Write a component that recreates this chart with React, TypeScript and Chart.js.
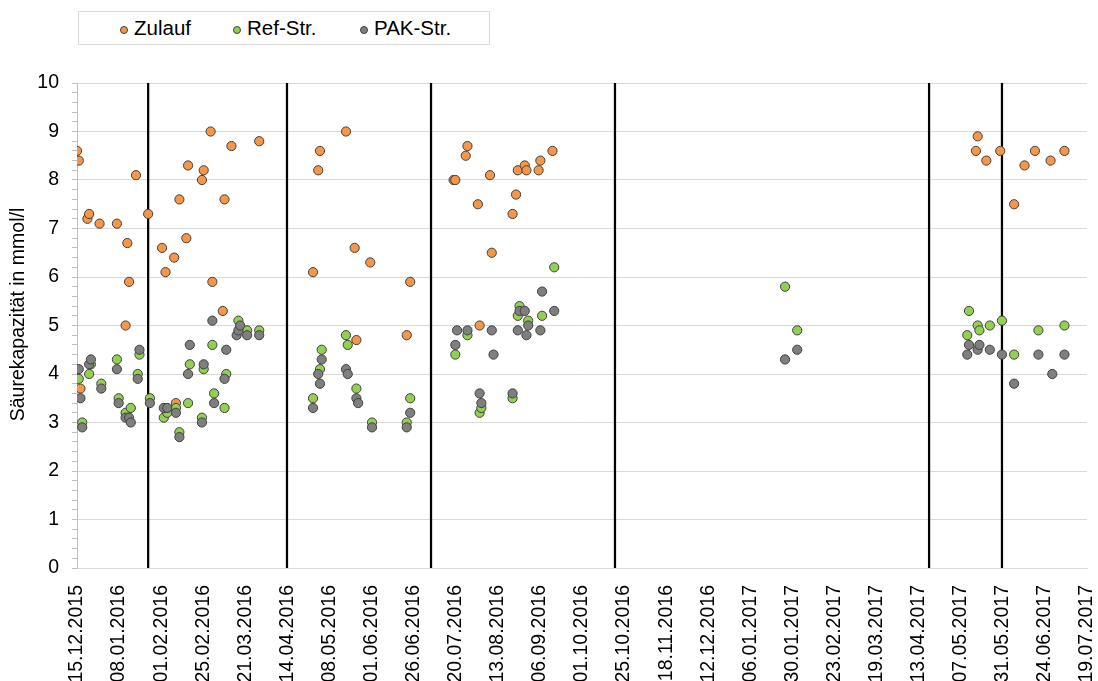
import React, { useEffect, useRef } from "react";
import { Chart, registerables } from "chart.js";

Chart.register(...registerables);

// ---- axis definition ----
const AXIS_START = "15.12.2015";
const AXIS_END = "19.07.2017";
const X_TICK_STEP_DAYS = 24.25;
const Y_MIN = 0;
const Y_MAX = 10;
const Y_MINOR_STEP = 0.2;
const Y_TITLE = "Säurekapazität in mmol/l";

// ---- series ----
const seriesLabels = ["Zulauf", "Ref-Str.", "PAK-Str."];
const seriesColors = ["#F79646", "#92D050", "#7F7F7F"];

const zulaufDates = [
  "15.12.2015", "16.12.2015", "17.12.2015", "21.12.2015", "22.12.2015", "28.12.2015",
  "07.01.2016", "12.01.2016", "13.01.2016", "14.01.2016", "18.01.2016", "25.01.2016",
  "02.02.2016", "04.02.2016", "09.02.2016", "10.02.2016", "12.02.2016", "16.02.2016",
  "17.02.2016", "25.02.2016", "26.02.2016", "01.03.2016", "02.03.2016", "08.03.2016",
  "09.03.2016", "13.03.2016", "29.03.2016",
  "29.04.2016", "02.05.2016", "03.05.2016", "18.05.2016", "23.05.2016", "24.05.2016",
  "01.06.2016", "22.06.2016", "24.06.2016",
  "19.07.2016", "20.07.2016", "26.07.2016", "27.07.2016", "02.08.2016", "03.08.2016",
  "09.08.2016", "10.08.2016", "22.08.2016", "24.08.2016", "25.08.2016", "29.08.2016",
  "30.08.2016", "06.09.2016", "07.09.2016", "14.09.2016",
  "16.05.2017", "17.05.2017", "22.05.2017", "30.05.2017", "07.06.2017", "13.06.2017",
  "19.06.2017", "28.06.2017", "06.07.2017",
];
const zulaufValues = [
  8.6, 8.4, 3.7, 7.2, 7.3, 7.1,
  7.1, 5.0, 6.7, 5.9, 8.1, 7.3,
  6.6, 6.1, 6.4, 3.4, 7.6, 6.8,
  8.3, 8.0, 8.2, 9.0, 5.9, 5.3,
  7.6, 8.7, 8.8,
  6.1, 8.2, 8.6, 9.0, 6.6, 4.7,
  6.3, 4.8, 5.9,
  8.0, 8.0, 8.5, 8.7, 7.5, 5.0,
  8.1, 6.5, 7.3, 7.7, 8.2, 8.3,
  8.2, 8.2, 8.4, 8.6,
  8.6, 8.9, 8.4, 8.6, 7.5, 8.3,
  8.6, 8.4, 8.6,
];

const refDates = [
  "16.12.2015", "18.12.2015", "22.12.2015", "23.12.2015", "29.12.2015",
  "07.01.2016", "08.01.2016", "12.01.2016", "15.01.2016", "19.01.2016", "20.01.2016",
  "26.01.2016", "03.02.2016", "05.02.2016", "10.02.2016", "12.02.2016", "17.02.2016",
  "18.02.2016", "25.02.2016", "26.02.2016", "02.03.2016", "03.03.2016", "09.03.2016",
  "10.03.2016", "17.03.2016", "22.03.2016", "29.03.2016",
  "29.04.2016", "03.05.2016", "04.05.2016", "18.05.2016", "19.05.2016", "24.05.2016",
  "02.06.2016", "22.06.2016", "24.06.2016",
  "20.07.2016", "27.07.2016", "03.08.2016", "04.08.2016", "22.08.2016", "25.08.2016",
  "26.08.2016", "31.08.2016", "08.09.2016", "15.09.2016",
  "26.01.2017", "02.02.2017",
  "11.05.2017", "12.05.2017", "17.05.2017", "18.05.2017", "24.05.2017", "31.05.2017",
  "07.06.2017", "21.06.2017", "06.07.2017",
];
const refValues = [
  3.9, 3.0, 4.0, 4.2, 3.8,
  4.3, 3.5, 3.2, 3.3, 4.0, 4.4,
  3.5, 3.1, 3.2, 3.3, 2.8, 3.4,
  4.2, 3.1, 4.1, 4.6, 3.6, 3.3,
  4.0, 5.1, 4.9, 4.9,
  3.5, 4.1, 4.5, 4.8, 4.6, 3.7,
  3.0, 3.0, 3.5,
  4.4, 4.8, 3.2, 3.3, 3.5, 5.2,
  5.4, 5.1, 5.2, 6.2,
  5.8, 4.9,
  4.8, 5.3, 5.0, 4.9, 5.0, 5.1,
  4.4, 4.9, 5.0,
];

const pakDates = [
  "16.12.2015", "17.12.2015", "18.12.2015", "22.12.2015", "23.12.2015", "29.12.2015",
  "07.01.2016", "08.01.2016", "12.01.2016", "14.01.2016", "15.01.2016", "19.01.2016",
  "20.01.2016", "26.01.2016", "03.02.2016", "05.02.2016", "10.02.2016", "12.02.2016",
  "17.02.2016", "18.02.2016", "25.02.2016", "26.02.2016", "02.03.2016", "03.03.2016",
  "09.03.2016", "10.03.2016", "16.03.2016", "17.03.2016", "18.03.2016", "22.03.2016",
  "29.03.2016",
  "29.04.2016", "02.05.2016", "03.05.2016", "04.05.2016", "18.05.2016", "19.05.2016",
  "24.05.2016", "25.05.2016", "02.06.2016", "22.06.2016", "24.06.2016",
  "20.07.2016", "21.07.2016", "27.07.2016", "03.08.2016", "04.08.2016", "10.08.2016",
  "11.08.2016", "22.08.2016", "25.08.2016", "26.08.2016", "29.08.2016", "30.08.2016",
  "31.08.2016", "07.09.2016", "08.09.2016", "15.09.2016",
  "26.01.2017", "02.02.2017",
  "11.05.2017", "12.05.2017", "17.05.2017", "18.05.2017", "24.05.2017", "31.05.2017",
  "07.06.2017", "21.06.2017", "29.06.2017", "06.07.2017",
];
const pakValues = [
  4.1, 3.5, 2.9, 4.2, 4.3, 3.7,
  4.1, 3.4, 3.1, 3.1, 3.0, 3.9,
  4.5, 3.4, 3.3, 3.3, 3.2, 2.7,
  4.0, 4.6, 3.0, 4.2, 5.1, 3.4,
  3.9, 4.5, 4.8, 4.9, 5.0, 4.8,
  4.8,
  3.3, 4.0, 3.8, 4.3, 4.1, 4.0,
  3.5, 3.4, 2.9, 2.9, 3.2,
  4.6, 4.9, 4.9, 3.6, 3.4, 4.9,
  4.4, 3.6, 4.9, 5.3, 5.3, 4.8,
  5.0, 4.9, 5.7, 5.3,
  4.3, 4.5,
  4.4, 4.6, 4.5, 4.6, 4.5, 4.4,
  3.8, 4.4, 4.0, 4.4,
];

// dates of the vertical separator lines
const separatorDates = [
  "25.01.2016", "14.04.2016", "06.07.2016", "20.10.2016", "19.04.2017", "31.05.2017",
];

// ---- helpers ----
const DAY_MS = 86400000;
function parseDate(s: string): number {
  const [d, m, y] = s.split(".").map(Number);
  return Date.UTC(y, m - 1, d);
}
const ORIGIN = parseDate(AXIS_START);
const toDay = (s: string) => Math.round((parseDate(s) - ORIGIN) / DAY_MS);
const pad2 = (n: number) => (n < 10 ? "0" + n : String(n));
function formatDay(v: number): string {
  const t = new Date(ORIGIN + Math.floor(v + 1e-6) * DAY_MS);
  return `${pad2(t.getUTCDate())}.${pad2(t.getUTCMonth() + 1)}.${t.getUTCFullYear()}`;
}
const isWhole = (v: number) => Math.abs(v - Math.round(v)) < 1e-6;
const zip = (dates: string[], values: number[]) =>
  dates.map((d, i) => ({ x: toDay(d), y: values[i] }));

const FONT = '"Liberation Sans", Arial, Helvetica, sans-serif';

const yTitlePlugin = {
  id: "yTitleShifted",
  afterDraw(chart: any) {
    const { ctx, chartArea } = chart;
    ctx.save();
    ctx.translate(19, (chartArea.top + chartArea.bottom) / 2 - 11);
    ctx.rotate(-Math.PI / 2);
    ctx.font = `19.5px ${FONT}`;
    ctx.fillStyle = "#000000";
    ctx.textAlign = "center";
    ctx.textBaseline = "middle";
    ctx.fillText(Y_TITLE, 0, 0);
    ctx.restore();
  },
};

const legendMarkerLeft = [41, 154, 281];
const legendTextLeft = [55, 168, 295];

export default function App() {
  const canvasRef = useRef<HTMLCanvasElement | null>(null);

  useEffect(() => {
    if (!canvasRef.current) return;
    const pointStyle = (i: number) => ({
      backgroundColor: seriesColors[i],
      borderColor: "#404040",
      borderWidth: 1,
      pointRadius: 4.6,
      pointHoverRadius: 4.6,
    });
    const separators = separatorDates.map((d) => ({
      label: "",
      data: [
        { x: toDay(d), y: Y_MIN },
        { x: toDay(d), y: Y_MAX },
      ],
      showLine: true,
      borderColor: "#000000",
      borderWidth: 2.25,
      pointRadius: 0,
      order: 10,
    }));
    const chart = new Chart(canvasRef.current, {
      type: "scatter",
      data: {
        datasets: [
          ...separators,
          { label: seriesLabels[0], data: zip(zulaufDates, zulaufValues), ...pointStyle(0), order: 3 },
          { label: seriesLabels[1], data: zip(refDates, refValues), ...pointStyle(1), order: 2 },
          { label: seriesLabels[2], data: zip(pakDates, pakValues), ...pointStyle(2), order: 1 },
        ] as any,
      },
      options: {
        responsive: false,
        animation: false,
        devicePixelRatio: 1,
        layout: { padding: { top: 83, right: 11, bottom: 0, left: 0 } },
        plugins: {
          legend: { display: false },
          tooltip: { enabled: false },
        },
        scales: {
          x: {
            type: "linear",
            min: 0,
            max: toDay(AXIS_END),
            afterFit: (s: any) => {
              s.height = 113;
              s.paddingLeft = 0;
              s.paddingRight = 0;
            },
            grid: { display: false },
            border: { display: true, color: "#D9D9D9", width: 1 },
            ticks: {
              stepSize: X_TICK_STEP_DAYS,
              autoSkip: false,
              minRotation: 90,
              maxRotation: 90,
              padding: 9,
              color: "#000000",
              font: { family: FONT, size: 19.5 },
              callback: (v: any) => formatDay(Number(v)),
            },
          },
          y: {
            type: "linear",
            min: Y_MIN,
            max: Y_MAX,
            afterFit: (s: any) => {
              s.width = 77;
              s.paddingTop = 0;
              s.paddingBottom = 0;
            },
            grid: {
              color: (c: any) =>
                c.tick && isWhole(c.tick.value) ? "#D9D9D9" : "rgba(0,0,0,0)",
              tickColor: "#BFBFBF",
              tickLength: 5,
              lineWidth: 1,
            },
            border: { display: true, color: "#BFBFBF", width: 1 },
            ticks: {
              stepSize: Y_MINOR_STEP,
              autoSkip: false,
              padding: 13,
              color: "#000000",
              font: { family: FONT, size: 19.5 },
              callback: (v: any) => (isWhole(Number(v)) ? String(Math.round(Number(v))) : ""),
            },
          },
        },
      },
      plugins: [yTitlePlugin],
    });
    return () => chart.destroy();
  }, []);

  return (
    <div
      style={{
        position: "fixed",
        left: 0,
        top: 0,
        width: 1098,
        height: 681,
        background: "#ffffff",
        overflow: "hidden",
      }}
    >
      <canvas ref={canvasRef} width={1098} height={681} style={{ display: "block" }} />
      <div
        style={{
          position: "absolute",
          left: 78,
          top: 11,
          width: 412,
          height: 34,
          boxSizing: "border-box",
          border: "1px solid #D9D9D9",
          background: "#ffffff",
          fontFamily: FONT,
          fontSize: 20.5,
          color: "#000000",
        }}
      >
        {seriesLabels.map((label, i) => (
          <React.Fragment key={label}>
            <span
              style={{
                position: "absolute",
                left: legendMarkerLeft[i],
                top: 13.5,
                width: 8,
                height: 8,
                boxSizing: "border-box",
                borderRadius: "50%",
                border: "1px solid #404040",
                background: seriesColors[i],
              }}
            />
            <span
              style={{
                position: "absolute",
                left: legendTextLeft[i],
                top: 0,
                height: 32,
                lineHeight: "32px",
                whiteSpace: "nowrap",
              }}
            >
              {label}
            </span>
          </React.Fragment>
        ))}
      </div>
    </div>
  );
}
